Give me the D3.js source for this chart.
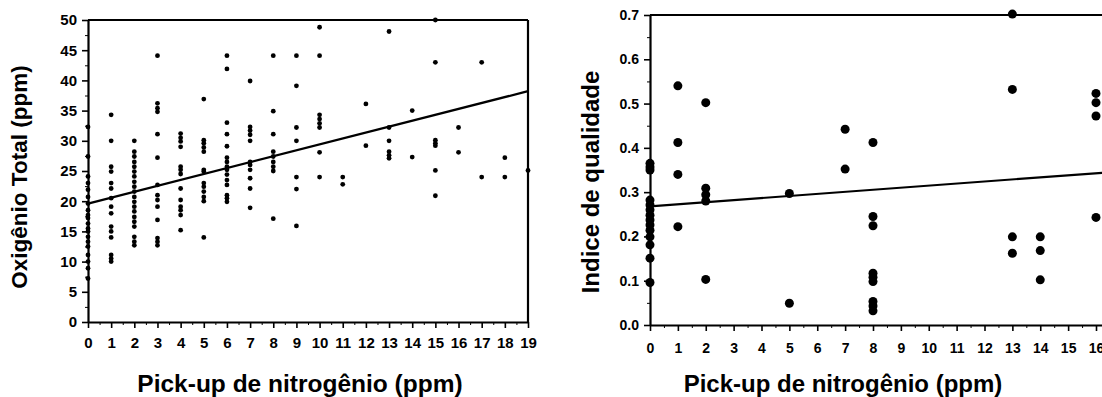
<!DOCTYPE html>
<html>
<head>
<meta charset="utf-8">
<script src="https://cdn.jsdelivr.net/npm/d3@7"></script>
<style>
  body { margin: 0; background: #fff; }
  text { font-family: "Liberation Sans", Arial, sans-serif; font-weight: bold; fill: #000; }
</style>
</head>
<body>
<svg id="chart"></svg>
<script>
// left panel: total oxygen (ppm) by nitrogen pick-up (ppm)
const oxyPickup = [0, 1, 2, 3, 4, 5, 6, 7, 8, 9, 10, 11, 12, 13, 14, 15, 16, 17, 18, 19];
const oxyValues = [
  [32.3, 27.4, 24.1, 23.0, 21.9, 20.7, 19.6, 18.5, 17.7, 17.2, 16.3, 15.5, 15.0, 14.1, 13.3, 12.5, 11.1, 10.0, 8.9, 7.2],
  [34.3, 30.0, 25.7, 24.9, 23.0, 22.1, 20.5, 19.1, 18.0, 15.8, 15.0, 14.0, 11.1, 10.5, 10.0],
  [30.0, 28.2, 27.4, 26.5, 25.7, 24.9, 24.1, 23.2, 22.4, 21.6, 20.7, 19.9, 19.1, 18.3, 17.4, 16.6, 15.8, 14.1, 13.3, 12.7],
  [44.1, 36.2, 35.4, 34.8, 31.1, 27.2, 22.7, 21.0, 20.2, 19.1, 16.9, 13.9, 13.3, 12.7],
  [31.2, 30.5, 29.9, 29.0, 25.7, 25.2, 24.5, 22.1, 20.2, 19.1, 18.5, 17.7, 15.2],
  [36.9, 30.1, 29.6, 28.9, 28.2, 25.2, 24.9, 23.0, 22.4, 21.6, 20.7, 20.0, 14.0],
  [44.1, 41.9, 33.0, 31.1, 29.1, 27.2, 26.5, 25.7, 25.2, 24.4, 23.5, 22.7, 21.0, 20.5, 19.9],
  [39.9, 32.3, 31.7, 31.0, 30.0, 26.5, 26.0, 25.2, 23.8, 22.1, 18.9],
  [44.1, 34.9, 31.1, 28.2, 27.4, 26.5, 25.7, 25.0, 17.1],
  [44.1, 39.1, 32.2, 30.0, 24.0, 22.0, 15.9],
  [48.8, 44.1, 34.3, 33.6, 32.9, 32.2, 28.1, 24.0],
  [24.0, 22.8],
  [36.1, 29.2],
  [48.1, 32.2, 30.0, 28.2, 27.6, 27.1],
  [35.0, 27.3],
  [50.0, 43.0, 30.1, 29.6, 29.2, 25.1, 20.9],
  [32.2, 28.1],
  [43.0, 24.0],
  [27.2, 24.0],
  [25.1]
];
const oxyFit = [19.6, 0.98]; // intercept, slope
const oxyXTicks = d3.range(0, 20);
const oxyYTicks = d3.range(0, 55, 5);

// right panel: quality index by nitrogen pick-up (ppm)
const qualPickup = [0, 1, 2, 5, 7, 8, 13, 14, 16];
const qualValues = [
  [0.365, 0.357, 0.350, 0.282, 0.271, 0.260, 0.248, 0.237, 0.226, 0.214, 0.199, 0.181, 0.151, 0.096],
  [0.540, 0.412, 0.340, 0.222],
  [0.502, 0.309, 0.294, 0.280, 0.103],
  [0.297, 0.049],
  [0.442, 0.352],
  [0.412, 0.245, 0.224, 0.117, 0.108, 0.098, 0.053, 0.043, 0.032],
  [0.702, 0.532, 0.199, 0.162],
  [0.199, 0.168, 0.102],
  [0.523, 0.502, 0.472, 0.243]
];
const qualFit = [0.268, 0.00467];
const qualXTicks = d3.range(0, 18);
const qualYTicks = [0, 0.1, 0.2, 0.3, 0.4, 0.5, 0.6, 0.7];

const width = 1102, height = 397;
const svg = d3.select('#chart').attr('width', width).attr('height', height);

function panel(opt) {
  const g = svg.append('g');
  const x = d3.scaleLinear().domain(opt.xDomain).range(opt.xRange);
  const y = d3.scaleLinear().domain(opt.yDomain).range(opt.yRange);

  // minor ticks (half steps inside the domain)
  g.append('g')
    .attr('transform', `translate(0,${opt.yRange[0]})`)
    .call(d3.axisBottom(x).tickValues(opt.xTicks.map(d => d + 0.5).filter(d => d < opt.xDomain[1]))
      .tickSize(3).tickFormat(''))
    .call(a => a.select('.domain').remove());
  g.append('g')
    .attr('transform', `translate(${opt.xRange[0]},0)`)
    .call(d3.axisLeft(y).tickValues(opt.yMinor).tickSize(3).tickFormat(''))
    .call(a => a.select('.domain').remove());

  const xAxis = g.append('g')
    .attr('transform', `translate(0,${opt.yRange[0]})`)
    .call(d3.axisBottom(x).tickValues(opt.xTicks).tickSize(6).tickSizeOuter(0).tickPadding(opt.xPad));
  const yAxis = g.append('g')
    .attr('transform', `translate(${opt.xRange[0]},0)`)
    .call(d3.axisLeft(y).tickValues(opt.yTicks).tickSize(6).tickSizeOuter(0).tickPadding(5)
      .tickFormat(opt.yFormat));

  [xAxis, yAxis].forEach(a => {
    a.selectAll('.domain').attr('stroke-width', 2.2);
    a.selectAll('.tick line').attr('stroke-width', 1.6);
    a.selectAll('text').attr('font-size', opt.tickFont).attr('fill', opt.tickColor)
      .attr('font-family', '"Liberation Sans", Arial, sans-serif').attr('font-weight', 'bold');
  });

  // frame: top and right
  g.append('line').attr('x1', opt.xRange[0]).attr('x2', x(opt.frameRight))
    .attr('y1', opt.yRange[1]).attr('y2', opt.yRange[1])
    .attr('stroke', '#000').attr('stroke-width', 2.2);
  if (opt.drawRight) {
    g.append('line').attr('x1', x(opt.frameRight)).attr('x2', x(opt.frameRight))
      .attr('y1', opt.yRange[1]).attr('y2', opt.yRange[0])
      .attr('stroke', '#000').attr('stroke-width', 2.2);
  }

  // points
  const pts = [];
  opt.pickup.forEach((p, i) => opt.values[i].forEach(v => pts.push([p, v])));
  g.append('g').selectAll('circle').data(pts).join('circle')
    .attr('cx', d => x(d[0])).attr('cy', d => y(d[1]))
    .attr('r', opt.r).attr('fill', '#000');

  // fit line
  const lx = [0, opt.fitEnd];
  g.append('path')
    .datum(lx)
    .attr('fill', 'none').attr('stroke', '#000').attr('stroke-width', 2.2)
    .attr('d', d3.line().x(d => x(d)).y(d => y(opt.fit[0] + opt.fit[1] * d)));

  // titles
  svg.append('text').attr('x', opt.xTitle[0]).attr('y', opt.xTitle[1])
    .attr('text-anchor', 'middle').attr('font-size', opt.xTitleSize).text(opt.xLabel);
  svg.append('text').attr('transform', `translate(${opt.yTitle[0]},${opt.yTitle[1]}) rotate(-90)`)
    .attr('text-anchor', 'middle').attr('font-size', opt.yTitleSize).text(opt.yLabel);
}

panel({
  xDomain: [0, 19], xRange: [88, 528],
  yDomain: [0, 50], yRange: [322, 20],
  xTicks: oxyXTicks, yTicks: oxyYTicks,
  yMinor: d3.range(2.5, 50, 5),
  yFormat: d3.format('d'),
  tickFont: 15, tickColor: '#000', xPad: 9,
  frameRight: 19, drawRight: true,
  pickup: oxyPickup, values: oxyValues, r: 2.4,
  fit: oxyFit, fitEnd: 19,
  xLabel: 'Pick-up de nitrogênio (ppm)', xTitle: [300, 392], xTitleSize: 24.5,
  yLabel: 'Oxigênio Total (ppm)', yTitle: [27, 177], yTitleSize: 22.5
});

panel({
  xDomain: [0, 17], xRange: [650, 650 + 17 * 27.875],
  yDomain: [0, 0.7], yRange: [325, 15],
  xTicks: qualXTicks, yTicks: qualYTicks,
  yMinor: d3.range(0.05, 0.7, 0.1),
  yFormat: d3.format('.1f'),
  tickFont: 14, tickColor: '#222', xPad: 12,
  frameRight: 17, drawRight: false,
  pickup: qualPickup, values: qualValues, r: 4.5,
  fit: qualFit, fitEnd: 17,
  xLabel: 'Pick-up de nitrogênio (ppm)', xTitle: [843, 392], xTitleSize: 24,
  yLabel: 'Indice de qualidade', yTitle: [599, 182], yTitleSize: 24
});
</script>
</body>
</html>
